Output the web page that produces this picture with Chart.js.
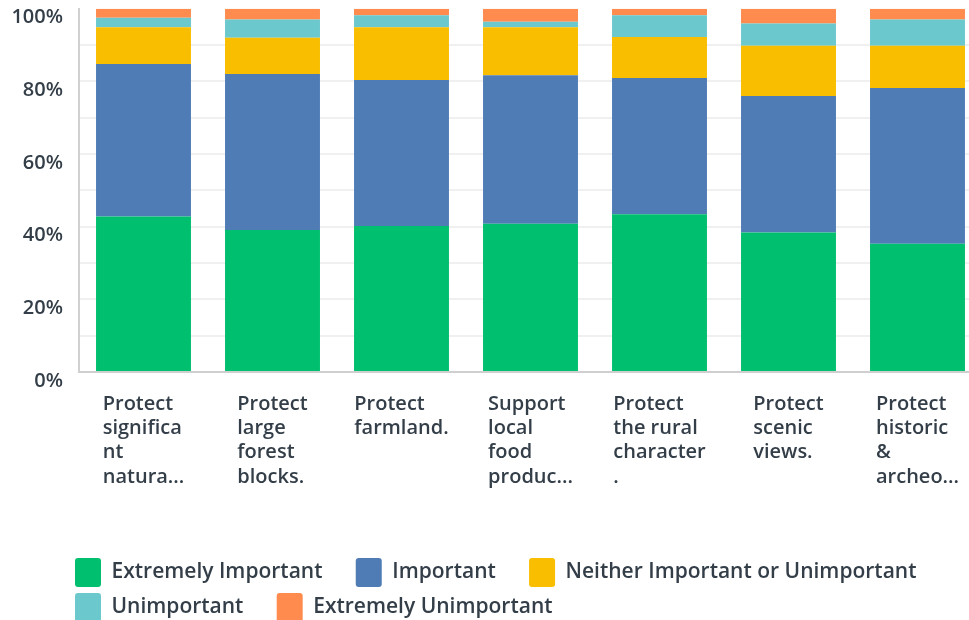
<!DOCTYPE html>
<html>
<head>
<meta charset="utf-8">
<script src="https://cdn.jsdelivr.net/npm/chart.js@4"></script>
<style>
  html, body { margin: 0; padding: 0; background: #fff; overflow: hidden; }
  .wrap { position: relative; width: 982px; height: 632px; }
</style>
</head>
<body>
<div class="wrap"><canvas id="myChart"></canvas></div>
<script>
const categories = [
    ['Protect', 'significa', 'nt', 'natura...'],
    ['Protect', 'large', 'forest', 'blocks.'],
    ['Protect', 'farmland.'],
    ['Support', 'local', 'food', 'produc...'],
    ['Protect', 'the rural', 'character', '.'],
    ['Protect', 'scenic', 'views.'],
    ['Protect', 'historic', '&', 'archeo...']
];
const seriesNames = ['Extremely Important', 'Important', 'Neither Important or Unimportant', 'Unimportant', 'Extremely Unimportant'];
const extremelyImportant = [42.8, 39.1, 40.2, 40.8, 43.4, 38.4, 35.3];
const important = [42.0, 42.9, 40.2, 40.9, 37.5, 37.6, 42.9];
const neither = [10.1, 10.0, 14.5, 13.2, 11.3, 13.8, 11.6];
const unimportant = [2.6, 5.0, 3.3, 1.5, 6.0, 6.1, 7.2];
const extremelyUnimportant = [2.5, 3.0, 1.8, 3.6, 1.8, 4.1, 3.0];
const yTicks = [0, 20, 40, 60, 80, 100];

const colors = ['#00bf6f', '#507cb6', '#f9be00', '#6bc8cd', '#ff8b4f'];
const series = [extremelyImportant, important, neither, unimportant, extremelyUnimportant];
const textColor = '#333e48';
const font = 'Open Sans';

// lines of each x label are left aligned, the block is centred under the bar
const centreLabelBlocks = {
    id: 'centreLabelBlocks',
    afterLayout(chart) {
        // legend starts a bit further left than the plot area
        chart.legend.left -= 10;
        chart.legend.right -= 10;
    },
    beforeDraw(chart) {
        const items = chart.scales.x.getLabelItems();
        const ctx = chart.ctx;
        for (const item of items) {
            if (item._centred) continue;
            ctx.save();
            ctx.font = item.font.string;
            const lines = Array.isArray(item.label) ? item.label : [item.label];
            const w = Math.max(...lines.map(l => ctx.measureText(l).width));
            ctx.restore();
            item.options.textAlign = 'left';
            item.options.translation[0] -= w / 2;
            item._centred = true;
        }
    }
};

const data = {
    labels: categories,
    datasets: seriesNames.map((name, i) => ({
        label: name,
        data: series[i],
        backgroundColor: colors[i],
        borderWidth: 0,
        barPercentage: 0.736,
        categoryPercentage: 1
    }))
};

new Chart(document.getElementById('myChart'), {
    type: 'bar',
    data: data,
    plugins: [centreLabelBlocks],
    options: {
        responsive: true,
        maintainAspectRatio: false,
        animation: false,
        layout: { padding: 0 },
        scales: {
            x: {
                stacked: true,
                afterFit: (s) => { s.height = 180; },
                grid: { display: false, drawTicks: false },
                border: { color: '#cfcfcf', width: 2 },
                ticks: {
                    autoSkip: false,
                    maxRotation: 0,
                    padding: 20,
                    color: textColor,
                    font: { family: font, size: 20, weight: '600', lineHeight: 1.215 }
                }
            },
            y: {
                stacked: true,
                min: 0,
                max: 100,
                afterFit: (s) => { s.width = 79; },
                grid: {
                    drawTicks: true,
                    tickLength: 16,
                    tickColor: 'rgba(0,0,0,0)',
                    lineWidth: 2,
                    color: (c) => (c.tick && c.tick.value === 100) ? 'rgba(0,0,0,0)' : '#f0f0f0'
                },
                border: { color: '#d0d0d0', width: 2 },
                ticks: {
                    stepSize: 10,
                    padding: 0,
                    labelOffset: 9,
                    color: textColor,
                    font: { family: font, size: 20, weight: '600', lineHeight: 0.87 },
                    callback: (v) => yTicks.includes(v) ? v + '%' : ''
                }
            }
        },
        plugins: {
            tooltip: { enabled: false },
            legend: {
                position: 'bottom',
                align: 'start',
                fullSize: false,
                labels: {
                    boxWidth: 26,
                    boxHeight: 29,
                    useBorderRadius: true,
                    borderRadius: 3,
                    padding: 6,
                    color: textColor,
                    font: { family: font, size: 21, weight: '600' },
                    generateLabels: (chart) => Chart.defaults.plugins.legend.labels.generateLabels(chart)
                        .map(item => ({ ...item, text: item.text + '     ' }))
                }
            }
        }
    }
});
</script>
</body>
</html>
